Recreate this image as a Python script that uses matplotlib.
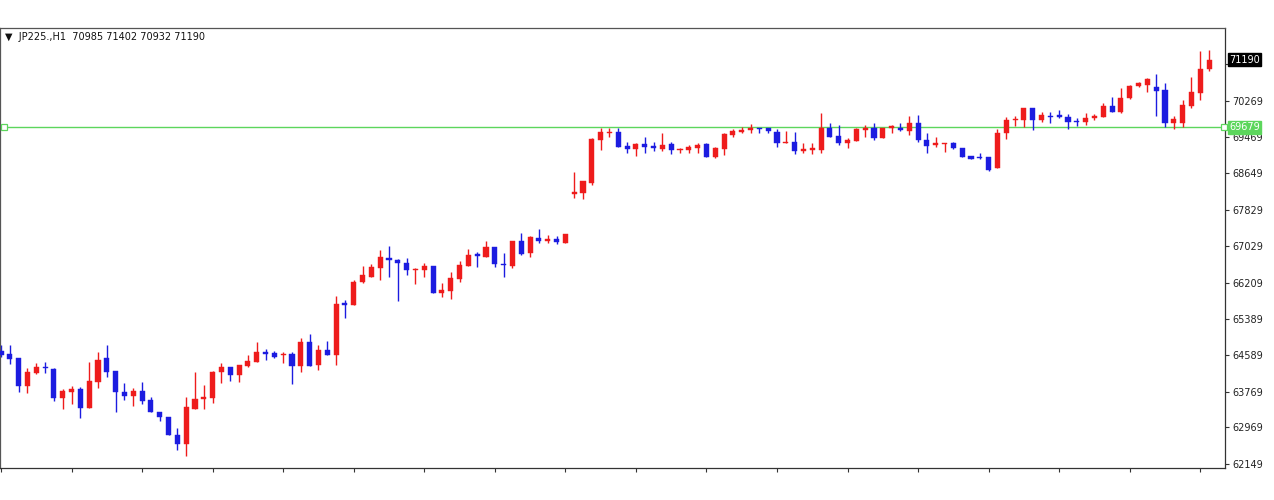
import matplotlib
matplotlib.use("Agg")
import matplotlib.pyplot as plt
import numpy as np

symbol = "JP225.,H1"
last_ohlc = [70985, 71402, 70932, 71190]
level_price = 69679
bid_price = 71190
ytick_values = [71089, 70269, 69469, 68649, 67829, 67029, 66209, 65389, 64589, 63769, 62969, 62149]
hidden_tick = 71089  # covered by the bid-price box in the reference

opens = [64677, 64610, 64521, 63894, 64185, 64319, 64275, 63626, 63760, 63827,
         63402, 63984, 64521, 64230, 63760, 63671, 63782, 63581, 63313, 63201,
         62799, 62597, 63380, 63604, 63626, 64207, 64319, 64140, 64342, 64431,
         64655, 64632, 64588, 64610, 64342, 64878, 64364, 64699, 64588, 65751,
         65706, 66221, 66333, 66534, 66758, 66713, 66646, 66490, 66490, 66579,
         65975, 66019, 66288, 66579, 66847, 66780, 67004, 66624, 66579, 67138,
         66870, 67205, 67138, 67183, 67093,
         68189, 68211, 68435, 69397, 69554, 69576, 69263, 69196, 69308, 69263,
         69196, 69308, 69174, 69174, 69218, 69308, 69017, 69196, 69509, 69576,
         69621, 69666, 69666, 69576, 69330, 69353, 69151, 69174, 69174, 69666,
         69487, 69330, 69375, 69621, 69666, 69442, 69666, 69666, 69598, 69777,
         69397, 69285, 69308, 69330, 69218, 69039, 69017, 69017, 68771, 69554,
         69845, 69845, 70113, 69845, 69934, 69956, 69912, 69822, 69800, 69889,
         69912, 70158, 70024, 70337, 70605, 70628, 70583, 70516, 69777, 69777,
         70158, 70449, 70985]

closes = [64588, 64498, 63894, 64207, 64319, 64297, 63626, 63782, 63827, 63402,
          64006, 64476, 64207, 63760, 63671, 63782, 63559, 63313, 63201, 62799,
          62597, 63425, 63604, 63648, 64207, 64319, 64140, 64364, 64454, 64655,
          64610, 64543, 64610, 64342, 64878, 64342, 64699, 64588, 65729, 65706,
          66221, 66378, 66557, 66780, 66713, 66646, 66490, 66512, 66579, 65975,
          66042, 66311, 66601, 66825, 66803, 67004, 66624, 66601, 67138, 66847,
          67227, 67138, 67183, 67116, 67294,
          68233, 68480, 69420, 69576, 69576, 69241, 69196, 69308, 69241, 69218,
          69285, 69174, 69196, 69241, 69285, 69017, 69218, 69531, 69598, 69621,
          69666, 69643, 69598, 69330, 69353, 69151, 69196, 69218, 69666, 69464,
          69330, 69397, 69643, 69666, 69442, 69666, 69710, 69621, 69777, 69397,
          69263, 69330, 69330, 69218, 69017, 68972, 68994, 68726, 69554, 69845,
          69867, 70113, 69845, 69956, 69912, 69912, 69800, 69800, 69889, 69934,
          70158, 70024, 70337, 70605, 70672, 70762, 70493, 69777, 69867, 70180,
          70471, 70985, 71190]

highs = [64811, 64811, 64521, 64297, 64409, 64431, 64297, 63827, 63894, 63872,
         64431, 64655, 64811, 64230, 63961, 63850, 63984, 63648, 63313, 63201,
         62955, 63648, 64207, 63917, 64230, 64409, 64319, 64364, 64588, 64878,
         64722, 64677, 64655, 64655, 64968, 65057, 64811, 64901, 65908, 65818,
         66266, 66579, 66624, 66937, 67026, 66736, 66758, 66534, 66646, 66579,
         66199, 66445, 66691, 66959, 66892, 67138, 67004, 66870, 67138, 67317,
         67250, 67406, 67272, 67250, 67294,
         68681, 68480, 69442, 69666, 69666, 69666, 69353, 69330, 69464, 69353,
         69554, 69353, 69218, 69285, 69330, 69330, 69241, 69554, 69643, 69688,
         69755, 69666, 69666, 69643, 69598, 69576, 69330, 69330, 70001, 69777,
         69733, 69442, 69666, 69733, 69777, 69666, 69733, 69777, 69934, 69956,
         69554, 69464, 69330, 69353, 69218, 69039, 69106, 69017, 69643, 69912,
         69934, 70113, 70113, 70024, 70024, 70068, 69979, 69889, 70001, 69979,
         70225, 70359, 70560, 70628, 70695, 70784, 70874, 70672, 69934, 70292,
         70806, 71389, 71402]

lows = [64543, 64386, 63760, 63738, 64163, 64185, 63559, 63380, 63492, 63179,
        63402, 63850, 64096, 63313, 63581, 63447, 63492, 63313, 63112, 62799,
        62463, 62329, 63380, 63380, 63514, 63961, 64006, 63984, 64319, 64431,
        64476, 64521, 64409, 63939, 64207, 64342, 64252, 64588, 64364, 65415,
        65706, 66199, 66333, 66266, 66333, 65796, 66378, 66176, 66333, 65975,
        65885, 65840, 66221, 66579, 66557, 66780, 66557, 66333, 66534, 66825,
        66780, 67093, 67093, 67071, 67093,
        68099, 68077, 68390, 69174, 69464, 69241, 69106, 69039, 69106, 69151,
        69151, 69084, 69106, 69106, 69106, 69017, 68994, 69062, 69464, 69554,
        69554, 69554, 69554, 69241, 69330, 69084, 69106, 69084, 69106, 69464,
        69285, 69218, 69375, 69464, 69397, 69442, 69554, 69598, 69509, 69353,
        69106, 69241, 69129, 69196, 69017, 68972, 68972, 68703, 68771, 69420,
        69710, 69688, 69621, 69800, 69777, 69889, 69643, 69710, 69733, 69845,
        69912, 70024, 70001, 70314, 70583, 70471, 69934, 69688, 69643, 69688,
        70113, 70292, 70932]

UP = "#ee1c1c"
DOWN = "#1c1ce0"
GREEN = "#5cd65c"

o = np.array(opens, float)
c = np.array(closes, float)
h = np.array(highs, float)
l = np.array(lows, float)
x = np.arange(len(o))
cols = [UP if cc >= oo else DOWN for oo, cc in zip(o, c)]

fig = plt.figure(figsize=(12.74, 5.0), dpi=100)
fig.patch.set_facecolor("white")
ax = fig.add_axes([0.0, 0.064, 0.9615, 0.88])
ax.set_facecolor("white")

ax.vlines(x, l, h, colors=cols, linewidth=1.0, zorder=2)
bottoms = np.minimum(o, c)
heights = np.maximum(np.abs(c - o), 22)
ax.bar(x, heights, bottom=bottoms, width=0.58, color=cols, edgecolor=cols,
       linewidth=0.3, zorder=3)

ax.axhline(level_price, color=GREEN, linewidth=1.0, zorder=1)
ax.plot([0.003, 0.9995], [level_price, level_price], transform=ax.get_yaxis_transform(),
        ls="none", marker="s", ms=4, mfc="white", mec=GREEN, mew=0.9, clip_on=False, zorder=4)

ax.set_xlim(-0.11, 138.8)
ax.set_ylim(62060, 71903)

ax.yaxis.tick_right()
ax.set_yticks(ytick_values)
ax.set_yticklabels(["" if v == hidden_tick else str(v) for v in ytick_values],
                   fontsize=7, color="#222222")
ax.tick_params(axis="y", direction="out", length=3, width=0.8, pad=2, colors="#333333",
               labelcolor="#222222")
ax.set_xticks(np.arange(0, len(o) + 1, 8))
ax.set_xticklabels([])
ax.tick_params(axis="x", direction="out", length=3, width=0.8, colors="#333333")

for s in ax.spines.values():
    s.set_color("#555555")
    s.set_linewidth(0.9)
ax.spines["right"].set_color("#333333")
ax.spines["bottom"].set_color("#333333")

ytr = ax.get_yaxis_transform()
ax.text(1.0035, bid_price, str(bid_price), transform=ytr, ha="left", va="center",
        fontsize=7, color="white", zorder=6,
        bbox=dict(boxstyle="square,pad=0.15", facecolor="black", edgecolor="black"))
ax.text(1.0035, level_price, str(level_price), transform=ytr, ha="left", va="center",
        fontsize=7, color="white", zorder=6,
        bbox=dict(boxstyle="square,pad=0.15", facecolor=GREEN, edgecolor=GREEN))

header = "\u25BC  " + symbol + "  " + " ".join(str(v) for v in last_ohlc)
ax.text(0.004, 0.979, header, transform=ax.transAxes, ha="left", va="center",
        fontsize=7, color="#111111")

fig.savefig("out.png", dpi=100, facecolor="white")
